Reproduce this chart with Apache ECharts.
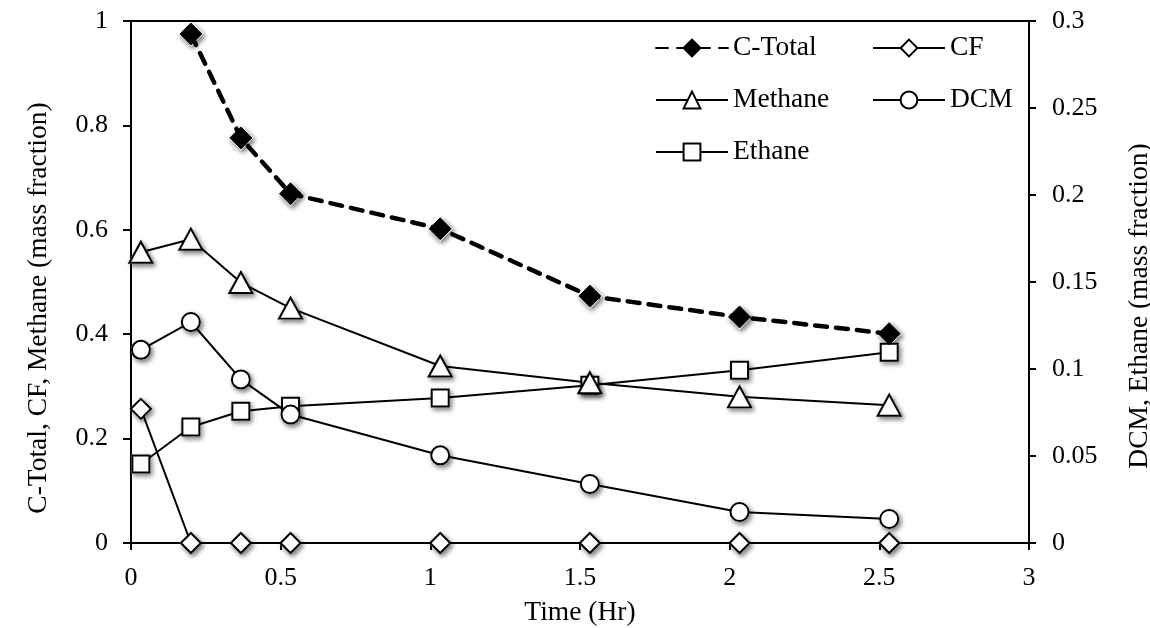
<!DOCTYPE html>
<html>
<head>
<meta charset="utf-8">
<script src="https://cdn.jsdelivr.net/npm/echarts@6/dist/echarts.min.js"></script>
<style>
html,body{margin:0;padding:0;background:#fff;}
#chart{width:1150px;height:628px;}
</style>
</head>
<body>
<div id="chart"></div>
<script>
const timeHr = [0.033, 0.2, 0.367, 0.533, 1.033, 1.533, 2.033, 2.533];
const cTotal = [null, 0.975, 0.776, 0.669, 0.602, 0.473, 0.433, 0.401];
const cf = [0.257, 0, 0, 0, 0, 0, 0, 0];
const methane = [0.557, 0.582, 0.499, 0.450, 0.339, 0.307, 0.280, 0.264];
const dcm = [0.111, 0.127, 0.094, 0.0738, 0.0504, 0.0339, 0.0178, 0.0138];
const ethane = [0.0454, 0.0667, 0.0757, 0.0786, 0.0834, 0.0906, 0.0993, 0.1096];

const xTitle = 'Time (Hr)';
const yLeftTitle = 'C-Total, CF, Methane (mass fraction)';
const yRightTitle = 'DCM, Ethane (mass fraction)';

const FONT = '"Liberation Serif", "Times New Roman", serif';
const FS = 26;
const FT = 27.5;

function pairs(vals) { return timeHr.map((t, i) => [t, vals[i]]); }

function shadowSeries(vals, symbol, size, yIdx) {
  return {
    name: '_shadow', type: 'line', yAxisIndex: yIdx, data: pairs(vals),
    symbol, symbolSize: size, showAllSymbol: true, silent: true,
    lineStyle: { width: 0, opacity: 0 },
    itemStyle: { color: '#fff', borderColor: '#fff', borderWidth: 2,
      shadowBlur: 5, shadowOffsetX: 2, shadowOffsetY: 2.5, shadowColor: 'rgba(0,0,0,0.5)' },
    emphasis: { disabled: true }, z: 1
  };
}

function openSeries(name, vals, symbol, size, yIdx) {
  return {
    name, type: 'line', yAxisIndex: yIdx, data: pairs(vals),
    symbol, symbolSize: size, showAllSymbol: true,
    lineStyle: { color: '#000', width: 2 },
    itemStyle: { color: '#fff', borderColor: '#000', borderWidth: 2 },
    emphasis: { disabled: true }, z: 3
  };
}

const chart = echarts.init(document.getElementById('chart'), null, { renderer: 'canvas' });
chart.setOption({
  animation: false,
  textStyle: { fontFamily: FONT },
  grid: { left: 131, right: 121, top: 21, bottom: 85, show: true, borderColor: '#000', borderWidth: 2, containLabel: false },
  xAxis: {
    type: 'value', min: 0, max: 3, interval: 0.5,
    axisLine: { lineStyle: { color: '#000', width: 2 } },
    axisTick: { show: true, length: 7, lineStyle: { color: '#000', width: 2 } },
    axisLabel: { color: '#000', fontSize: FS, fontFamily: FONT, margin: 22 },
    splitLine: { show: false }
  },
  yAxis: [
    {
      type: 'value', min: 0, max: 1, interval: 0.2, position: 'left',
      axisLine: { show: true, lineStyle: { color: '#000', width: 2 } },
      axisTick: { show: true, length: 8, lineStyle: { color: '#000', width: 2 } },
      axisLabel: { color: '#000', fontSize: FS, fontFamily: FONT, margin: 23 },
      splitLine: { show: false }
    },
    {
      type: 'value', min: 0, max: 0.3, interval: 0.05, position: 'right',
      axisLine: { show: true, lineStyle: { color: '#000', width: 2 } },
      axisTick: { show: true, length: 7, lineStyle: { color: '#000', width: 2 } },
      axisLabel: { color: '#000', fontSize: FS, fontFamily: FONT, margin: 23 },
      splitLine: { show: false }
    }
  ],
  legend: [
    {
      data: ['C-Total', 'Methane', 'Ethane'], orient: 'vertical', left: 650, top: 29,
      itemWidth: 72, itemHeight: 21, itemGap: 24, selectedMode: false,
      textStyle: { color: '#000', fontSize: FT, fontFamily: FONT, lineHeight: 27 }
    },
    {
      data: ['CF', 'DCM'], orient: 'vertical', left: 867, top: 29,
      itemWidth: 72, itemHeight: 21, itemGap: 24, selectedMode: false,
      textStyle: { color: '#000', fontSize: FT, fontFamily: FONT, lineHeight: 27 }
    }
  ],
  graphic: [
    { type: 'text', x: 580, y: 613, silent: true,
      style: { text: xTitle, fontSize: FT, fontFamily: FONT, fill: '#000', align: 'center', verticalAlign: 'middle', textAlign: 'center', textVerticalAlign: 'middle' } },
    { type: 'text', x: 39, y: 308, rotation: Math.PI / 2, silent: true,
      style: { text: yLeftTitle, fontSize: FT, fontFamily: FONT, fill: '#000', align: 'center', verticalAlign: 'middle', textAlign: 'center', textVerticalAlign: 'middle' } },
    { type: 'text', x: 1140, y: 306, rotation: Math.PI / 2, silent: true,
      style: { text: yRightTitle, fontSize: FT, fontFamily: FONT, fill: '#000', align: 'center', verticalAlign: 'middle', textAlign: 'center', textVerticalAlign: 'middle' } }
  ],
  series: [
    shadowSeries(ethane, 'rect', 17, 1),
    shadowSeries(dcm, 'circle', 18, 1),
    shadowSeries(methane, 'triangle', [23, 21], 0),
    shadowSeries(cf, 'diamond', 20, 0),
    shadowSeries(cTotal, 'diamond', 22, 0),
    openSeries('Ethane', ethane, 'rect', 17, 1),
    openSeries('DCM', dcm, 'circle', 18, 1),
    openSeries('Methane', methane, 'triangle', [23, 21], 0),
    openSeries('CF', cf, 'diamond', 20, 0),
    {
      name: 'C-Total', type: 'line', yAxisIndex: 0, data: pairs(cTotal),
      symbol: 'diamond', symbolSize: 22, showAllSymbol: true, connectNulls: false,
      lineStyle: { color: '#000', width: 4.5, type: [12, 9], cap: 'round' },
      itemStyle: { color: '#000', borderColor: '#000', borderWidth: 1 },
      emphasis: { disabled: true }, z: 4
    }
  ]
});
</script>
</body>
</html>
